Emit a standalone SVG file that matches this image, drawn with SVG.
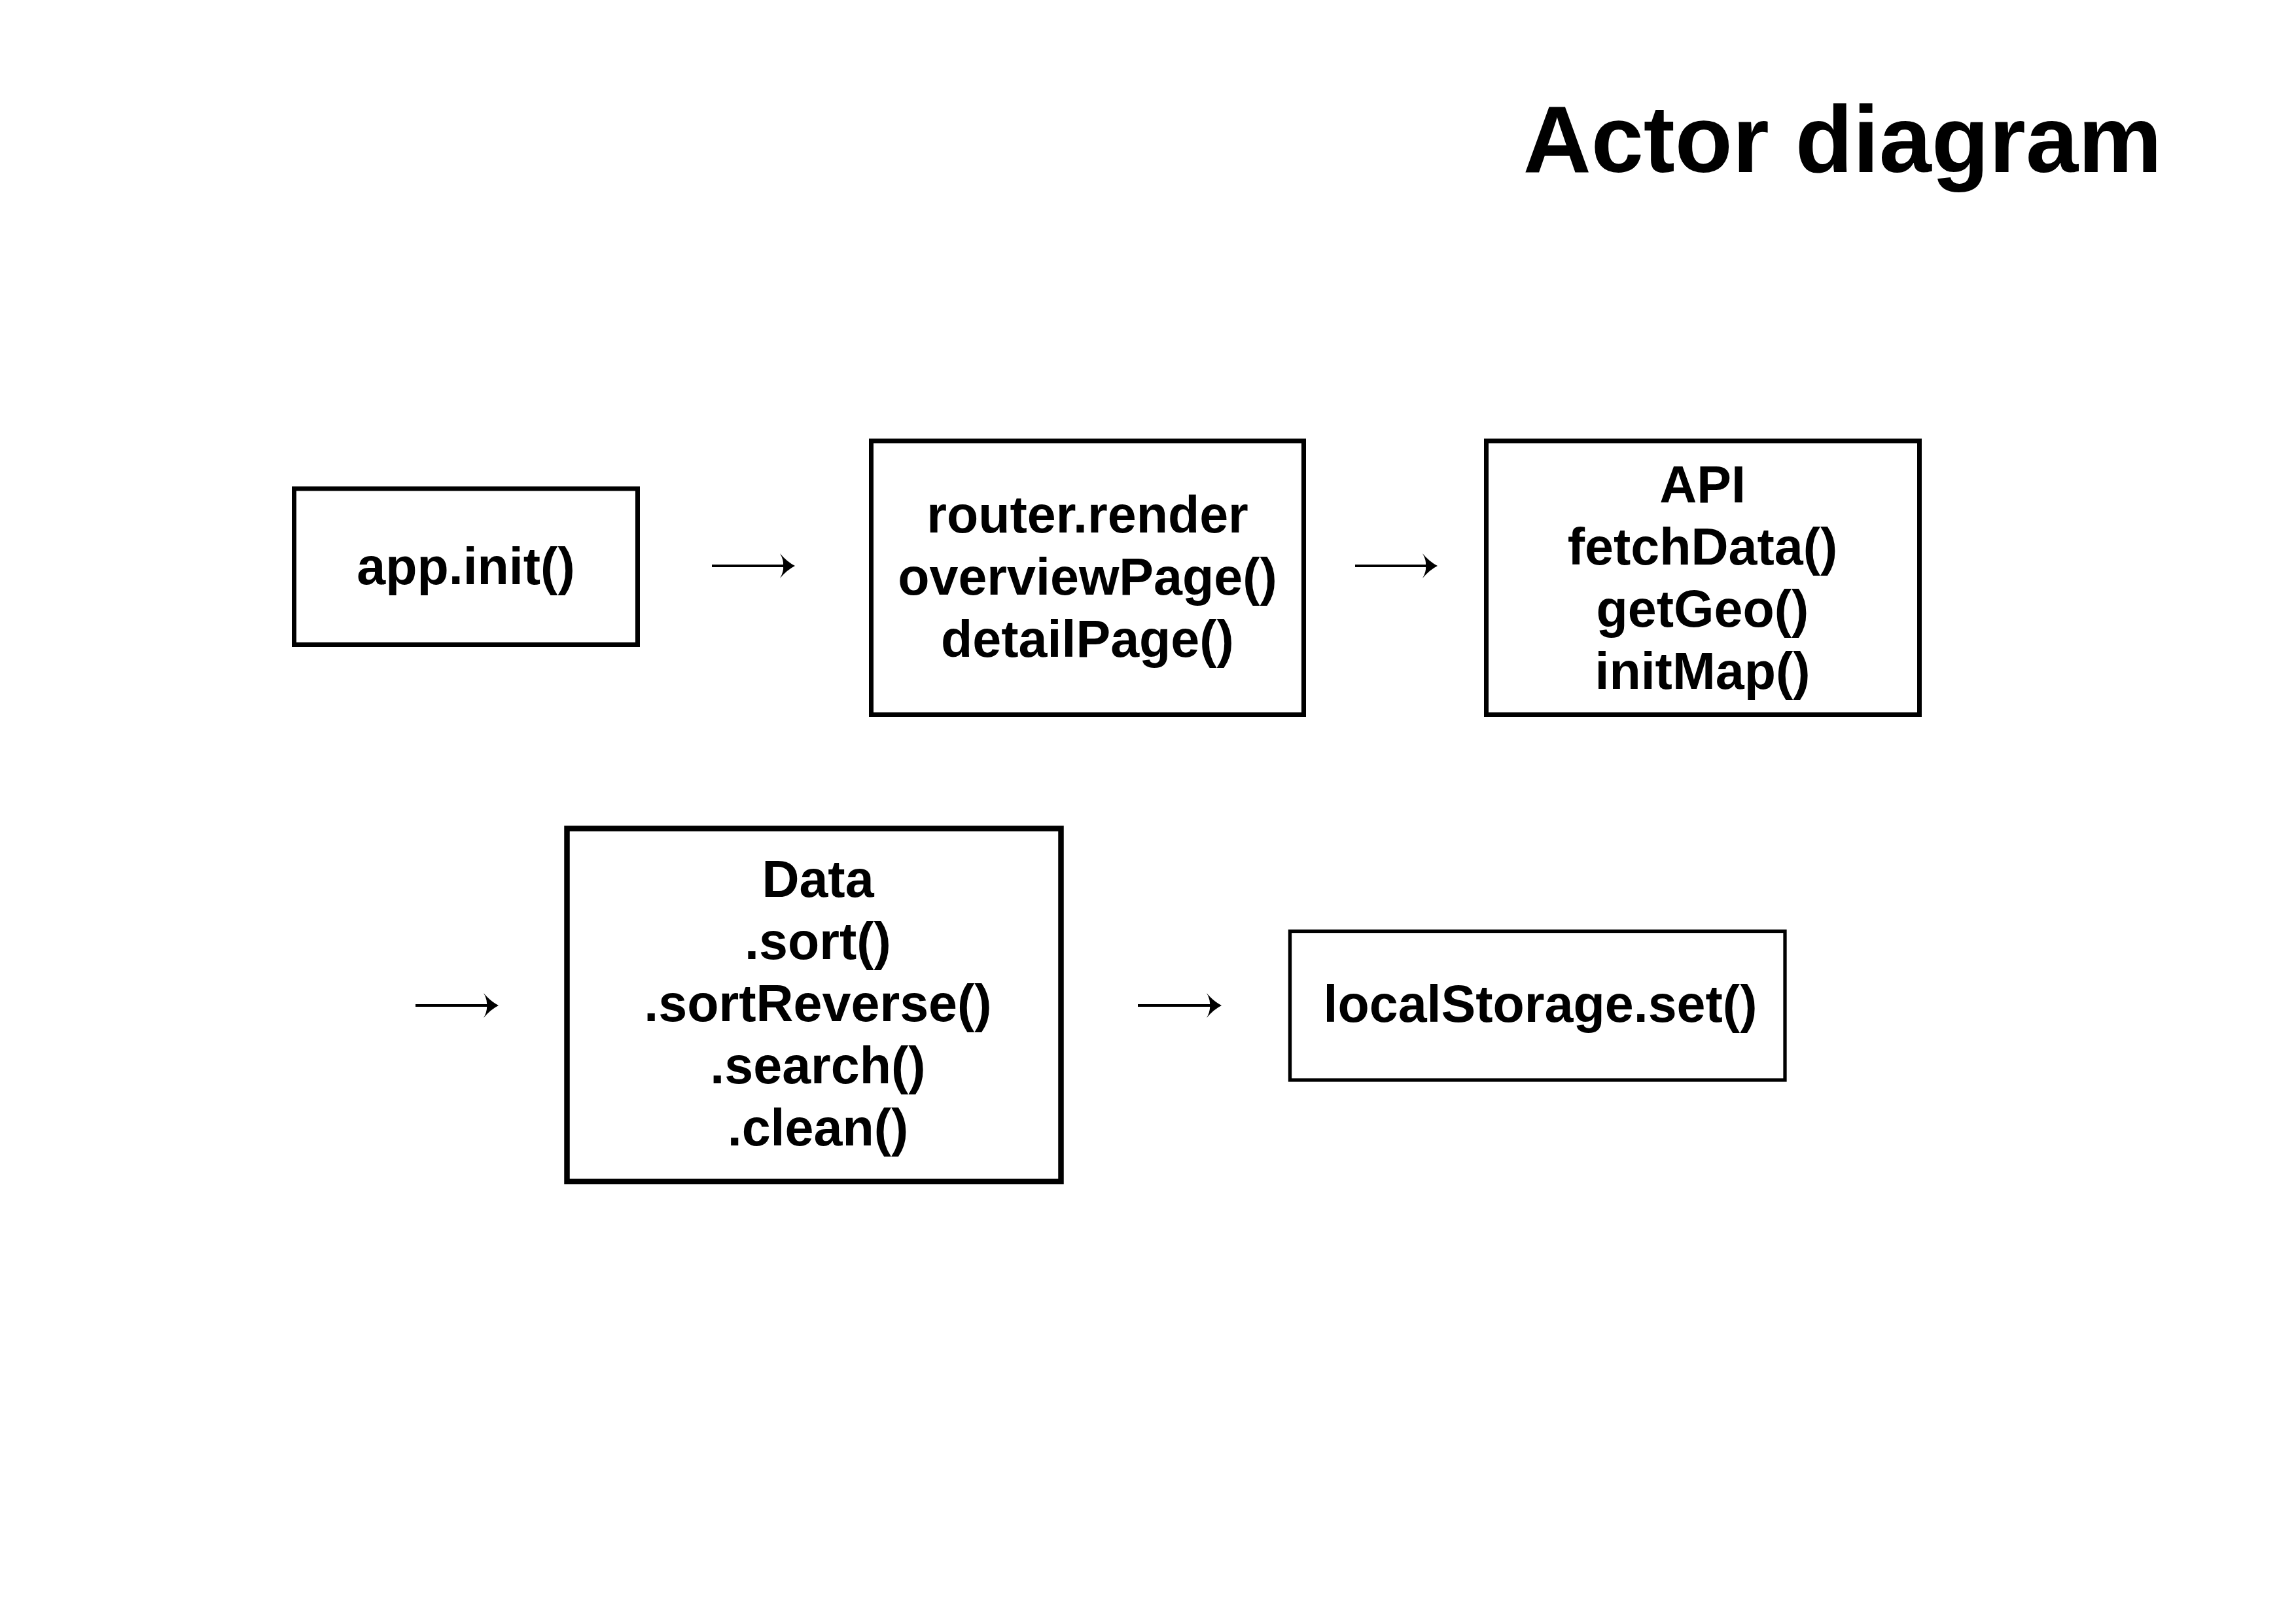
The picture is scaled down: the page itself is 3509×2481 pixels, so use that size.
<svg xmlns="http://www.w3.org/2000/svg" width="3509" height="2481" viewBox="0 0 3509 2481">
<style>
  .box { fill: #ffffff; stroke: #000000; }
  .lbl { font-family: "Liberation Sans", Arial, sans-serif; font-weight: bold; font-size: 79px; fill: #000000; text-anchor: middle; }
  .title { font-family: "Liberation Sans", Arial, sans-serif; font-weight: bold; font-size: 144px; fill: #000000; text-anchor: end; }
  .conn { stroke: #000000; stroke-width: 4; fill: none; }
</style>
<defs>
  <marker id="head" markerUnits="userSpaceOnUse" viewBox="-26 -21 30 42" refX="-10" refY="0" markerWidth="30" markerHeight="42" orient="auto">
    <path d="M0,0 Q-12,-6 -23,-19 Q-17,-9 -18,0 Q-17,9 -23,19 Q-12,6 0,0 Z" fill="#000000"/>
  </marker>
</defs>
<rect width="3509" height="2481" fill="#ffffff"/>
<text class="title" x="3304" y="263">Actor diagram</text>

<g id="node-app-init">
  <rect class="box" x="449.5" y="747" width="525" height="238.5" stroke-width="7"/>
  <text class="lbl" x="712" y="893">app.init()</text>
</g>

<g id="node-router">
  <rect class="box" x="1331.5" y="674" width="661" height="418.5" stroke-width="7"/>
  <text class="lbl" x="1662" y="814">router.render</text>
  <text class="lbl" x="1662" y="909">overviewPage()</text>
  <text class="lbl" x="1662" y="1004">detailPage()</text>
</g>

<g id="node-api">
  <rect class="box" x="2271.5" y="674" width="662" height="418.5" stroke-width="7"/>
  <text class="lbl" x="2602" y="768">API</text>
  <text class="lbl" x="2602" y="863">fetchData()</text>
  <text class="lbl" x="2602" y="958">getGeo()</text>
  <text class="lbl" x="2602" y="1053">initMap()</text>
</g>

<g id="node-data">
  <rect class="box" x="866.5" y="1266.5" width="755" height="539.5" stroke-width="8.5"/>
  <text class="lbl" x="1250" y="1371">Data</text>
  <text class="lbl" x="1250" y="1466">.sort()</text>
  <text class="lbl" x="1250" y="1561">.sortReverse()</text>
  <text class="lbl" x="1250" y="1656">.search()</text>
  <text class="lbl" x="1250" y="1751">.clean()</text>
</g>

<g id="node-localstorage">
  <rect class="box" x="1971.5" y="1423.5" width="756.5" height="227.5" stroke-width="5.3"/>
  <text class="lbl" x="2354" y="1562">localStorage.set()</text>
</g>

<g id="connectors">
  <line class="conn" x1="1088" y1="865" x2="1205" y2="865" marker-end="url(#head)"/>
  <line class="conn" x1="2071" y1="865" x2="2187" y2="865" marker-end="url(#head)"/>
  <line class="conn" x1="635" y1="1537" x2="752" y2="1537" marker-end="url(#head)"/>
  <line class="conn" x1="1739" y1="1537" x2="1857" y2="1537" marker-end="url(#head)"/>
</g>
</svg>
